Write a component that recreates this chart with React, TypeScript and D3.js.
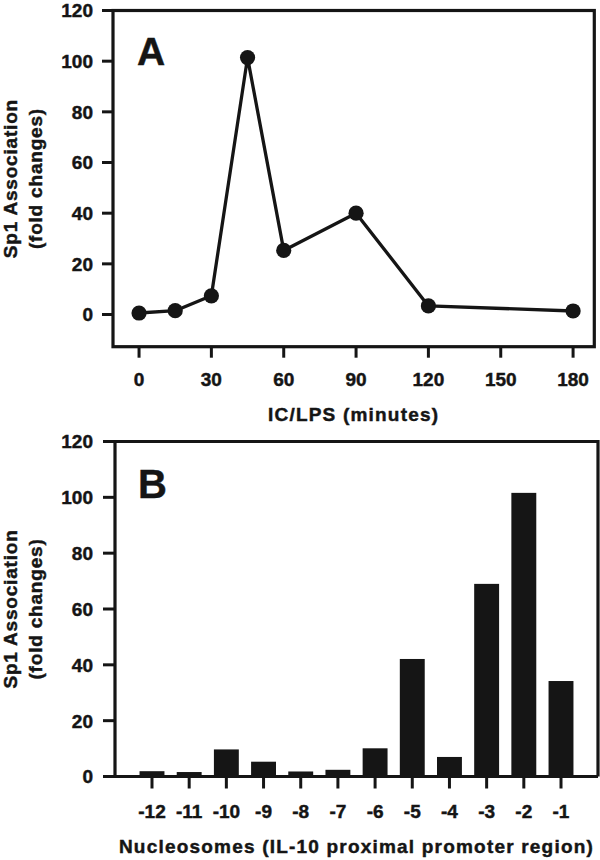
import React from "react";
import * as d3 from "d3";

const timeMinutes = [0, 15, 30, 45, 60, 90, 120, 180];
const timeFold = [0.6, 1.5, 7.4, 101.4, 25.3, 40, 3.4, 1.4];
const timeTicks = [0, 30, 60, 90, 120, 150, 180];

const nucleosomes = ["-12", "-11", "-10", "-9", "-8", "-7", "-6", "-5", "-4", "-3", "-2", "-1"];
const nucleoFold = [1.9, 1.6, 9.7, 5.3, 1.8, 2.4, 10.1, 42.1, 7.0, 69.0, 101.6, 34.2];

const yTicks = [0, 20, 40, 60, 80, 100, 120];

const FONT = "'Liberation Sans', Arial, Helvetica, sans-serif";
const INK = "#151515";

export default function App() {
  // Panel A scales
  const xA = d3.scaleLinear().domain([-10.8, 188.8]).range([113, 594.3]);
  const yA = d3.scaleLinear().domain([-12.7, 120]).range([346.7, 10.5]);
  const line = d3
    .line<number>()
    .x((_, i) => xA(timeMinutes[i]))
    .y((d) => yA(d));

  // Panel B scales
  const xB = d3.scaleBand<string>().domain(nucleosomes).range([115, 598]).paddingInner(0.33).paddingOuter(0.66);
  const yB = d3.scaleLinear().domain([0, 120]).range([776.5, 441.5]);

  const labelStyle = {
    fontFamily: FONT,
    fontWeight: 700,
    fontSize: 19,
    fill: INK,
    stroke: INK,
    strokeWidth: 0.45,
  } as const;
  const titleStyle = { ...labelStyle, letterSpacing: 1.2 } as const;
  const yTitleStyle = { ...labelStyle, letterSpacing: 0.8 } as const;

  const [xa0, xa1] = xA.range();
  const [ya0, ya1] = yA.range();
  const [xb0, xb1] = xB.range();

  return (
    <svg
      width={600}
      height={860}
      style={{ position: "absolute", left: 0, top: 0, background: "#fff" }}
    >
      {/* ===== Panel A ===== */}
      <g>
        <rect
          x={xa0}
          y={ya1}
          width={xa1 - xa0}
          height={ya0 - ya1}
          fill="none"
          stroke={INK}
          strokeWidth={3.2}
        />
        {yTicks.map((t) => (
          <g key={"ya" + t}>
            <line x1={xa0 - 11} x2={xa0} y1={yA(t)} y2={yA(t)} stroke={INK} strokeWidth={3} />
            <text x={xa0 - 20} y={yA(t)} dy="0.36em" textAnchor="end" style={labelStyle}>
              {t}
            </text>
          </g>
        ))}
        {timeTicks.map((t) => (
          <g key={"xa" + t}>
            <line x1={xA(t)} x2={xA(t)} y1={ya0} y2={ya0 + 11} stroke={INK} strokeWidth={3} />
            <text x={xA(t)} y={386} textAnchor="middle" style={labelStyle}>
              {t}
            </text>
          </g>
        ))}
        <path d={line(timeFold) || ""} fill="none" stroke={INK} strokeWidth={3.3} strokeLinejoin="round" />
        {timeFold.map((v, i) => (
          <circle key={"pt" + i} cx={xA(timeMinutes[i])} cy={yA(v)} r={7.6} fill={INK} />
        ))}
        <text x={137} y={65} style={{ ...labelStyle, fontSize: 39 }}>
          A
        </text>
        <text x={(xa0 + xa1) / 2} y={421} textAnchor="middle" style={titleStyle}>
          IC/LPS (minutes)
        </text>
        <g transform={`translate(0, ${(ya0 + ya1) / 2})`}>
          <text transform="translate(16.5,0) rotate(-90)" textAnchor="middle" style={yTitleStyle}>
            Sp1 Association
          </text>
          <text transform="translate(42,0) rotate(-90)" textAnchor="middle" style={yTitleStyle}>
            (fold changes)
          </text>
        </g>
      </g>

      {/* ===== Panel B ===== */}
      <g>
        <path
          d={`M${xb0},${yB(0)} L${xb0},${yB(120)} L${xb1},${yB(120)} L${xb1},${yB(0)}`}
          fill="none"
          stroke={INK}
          strokeWidth={3.2}
        />
        {nucleosomes.map((n, i) => (
          <rect
            key={"bar" + n}
            x={xB(n)}
            y={yB(nucleoFold[i])}
            width={xB.bandwidth()}
            height={yB(0) - yB(nucleoFold[i])}
            fill={INK}
          />
        ))}
        <line x1={xb0} x2={xb1} y1={yB(0)} y2={yB(0)} stroke={INK} strokeWidth={3.2} />
        {yTicks.map((t) => (
          <g key={"yb" + t}>
            <line x1={xb0 - 12} x2={xb0} y1={yB(t)} y2={yB(t)} stroke={INK} strokeWidth={3} />
            <text x={xb0 - 22} y={yB(t)} dy="0.36em" textAnchor="end" style={labelStyle}>
              {t}
            </text>
          </g>
        ))}
        {nucleosomes.map((n) => {
          const cx = (xB(n) || 0) + xB.bandwidth() / 2;
          return (
            <g key={"xb" + n}>
              <line x1={cx} x2={cx} y1={yB(0)} y2={yB(0) + 12} stroke={INK} strokeWidth={3} />
              <text x={cx} y={818} textAnchor="middle" style={labelStyle}>
                {n}
              </text>
            </g>
          );
        })}
        <text x={138} y={498} style={{ ...labelStyle, fontSize: 40 }}>
          B
        </text>
        <text x={(xb0 + xb1) / 2} y={853} textAnchor="middle" style={titleStyle}>
          Nucleosomes (IL-10 proximal promoter region)
        </text>
        <g transform={`translate(0, ${(yB(0) + yB(120)) / 2})`}>
          <text transform="translate(16.5,0) rotate(-90)" textAnchor="middle" style={yTitleStyle}>
            Sp1 Association
          </text>
          <text transform="translate(42,0) rotate(-90)" textAnchor="middle" style={yTitleStyle}>
            (fold changes)
          </text>
        </g>
      </g>
    </svg>
  );
}
